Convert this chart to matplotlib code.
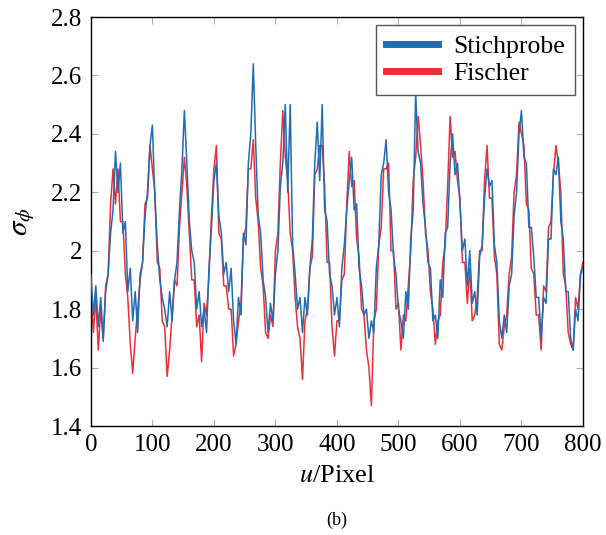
import numpy as np
import matplotlib
matplotlib.use("Agg")
import matplotlib.pyplot as plt

# sigma_phi every 4 pixels (u = 0, 4, ..., 800)
stichprobe = [
    1.92, 1.78, 1.88, 1.74, 1.84, 1.69, 1.86, 1.92, 2.06, 2.14,
    2.34, 2.20, 2.30, 2.06, 2.10, 1.86, 1.94, 1.76, 1.86, 1.72,
    1.92, 1.96, 2.12, 2.20, 2.36, 2.43, 2.18, 2.02, 1.90, 1.84,
    1.80, 1.74, 1.86, 1.76, 1.90, 1.96, 2.14, 2.28, 2.48, 2.30,
    2.10, 2.00, 1.96, 1.80, 1.86, 1.74, 1.80, 1.72, 1.94, 2.08,
    2.24, 2.30, 2.12, 2.06, 1.92, 1.96, 1.86, 1.94, 1.76, 1.68,
    1.84, 1.78, 2.06, 2.02, 2.30, 2.40, 2.64, 2.36, 2.12, 2.06,
    1.90, 1.84, 1.72, 1.82, 1.76, 1.92, 2.00, 2.22, 2.30, 2.50,
    2.20, 2.50, 2.02, 1.92, 1.80, 1.84, 1.72, 1.84, 1.78, 1.94,
    2.04, 2.30, 2.44, 2.24, 2.50, 2.14, 2.10, 1.92, 1.88, 1.78,
    1.84, 1.74, 1.94, 2.02, 2.14, 2.24, 2.32, 2.14, 2.16, 1.94,
    1.88, 1.78, 1.80, 1.70, 1.76, 1.72, 1.94, 2.02, 2.26, 2.30,
    2.38, 2.20, 2.14, 1.98, 1.92, 1.80, 1.76, 1.70, 1.86, 1.80,
    2.04, 2.14, 2.54, 2.34, 2.30, 2.16, 2.08, 1.96, 1.94, 1.76,
    1.78, 1.70, 1.90, 1.84, 2.06, 2.08, 2.30, 2.40, 2.26, 2.30,
    2.16, 2.00, 2.04, 1.88, 2.00, 1.82, 1.86, 1.78, 1.98, 2.02,
    2.18, 2.28, 2.22, 2.24, 2.02, 1.96, 1.76, 1.70, 1.78, 1.72,
    1.88, 1.92, 2.12, 2.20, 2.40, 2.48, 2.32, 2.30, 2.08, 2.08,
    1.98, 1.84, 1.84, 1.70, 1.84, 1.82, 2.04, 2.04, 2.28, 2.26,
    2.32, 2.10, 2.04, 1.86, 1.86, 1.70, 1.66, 1.80, 1.76, 1.92,
    1.94,
]

fischer = [
    1.86, 1.72, 1.84, 1.66, 1.80, 1.70, 1.88, 1.92, 2.16, 2.28,
    2.16, 2.28, 2.10, 2.10, 1.92, 1.84, 1.68, 1.58, 1.70, 1.80,
    1.90, 1.96, 2.16, 2.18, 2.36, 2.28, 2.20, 1.96, 1.94, 1.76,
    1.74, 1.57, 1.66, 1.78, 1.90, 1.88, 2.08, 2.20, 2.32, 2.22,
    2.06, 1.90, 1.90, 1.74, 1.78, 1.62, 1.82, 1.78, 1.92, 2.12,
    2.28, 2.36, 2.06, 2.04, 1.88, 1.88, 1.80, 1.80, 1.64, 1.68,
    1.76, 1.82, 2.04, 2.08, 2.28, 2.28, 2.38, 2.18, 2.10, 1.94,
    1.88, 1.72, 1.70, 1.78, 1.74, 2.00, 2.06, 2.30, 2.48, 2.32,
    2.24, 2.06, 2.00, 1.84, 1.74, 1.70, 1.56, 1.76, 1.80, 1.94,
    1.98, 2.26, 2.28, 2.36, 2.36, 2.22, 1.96, 1.96, 1.74, 1.64,
    1.76, 1.76, 1.90, 1.92, 2.16, 2.34, 2.22, 2.24, 2.04, 1.98,
    1.80, 1.78, 1.66, 1.60, 1.47, 1.76, 1.80, 2.02, 2.08, 2.28,
    2.28, 2.30, 2.00, 2.00, 1.80, 1.82, 1.66, 1.78, 1.76, 1.88,
    2.00, 2.24, 2.32, 2.46, 2.36, 2.24, 2.06, 2.00, 1.86, 1.80,
    1.68, 1.76, 1.78, 1.96, 2.02, 2.22, 2.46, 2.32, 2.34, 2.24,
    2.18, 1.96, 1.96, 1.82, 1.94, 1.76, 1.78, 1.84, 2.00, 2.00,
    2.24, 2.36, 2.18, 2.18, 1.98, 1.92, 1.68, 1.66, 1.74, 1.78,
    1.92, 1.98, 2.20, 2.26, 2.44, 2.40, 2.36, 2.16, 2.14, 1.94,
    1.92, 1.78, 1.78, 1.66, 1.88, 1.86, 2.08, 2.10, 2.26, 2.36,
    2.30, 2.20, 1.92, 1.88, 1.72, 1.68, 1.66, 1.84, 1.80, 1.92,
    1.96,
]

u = np.linspace(0, 800, len(stichprobe))

x_ticks = [0, 100, 200, 300, 400, 500, 600, 700, 800]
y_ticks = [1.4, 1.6, 1.8, 2.0, 2.2, 2.4, 2.6, 2.8]
y_labels = ["1.4", "1.6", "1.8", "2", "2.2", "2.4", "2.6", "2.8"]

plt.rcParams["font.family"] = ["Liberation Serif", "DejaVu Serif"]
plt.rcParams["mathtext.fontset"] = "stix"

blue = "#1f6db5"
red = "#ee2e36"

fig = plt.figure(figsize=(6.06, 5.35), dpi=100)
ax = fig.add_axes([0.150, 0.2037, 0.812, 0.7645])

l_blue, = ax.plot(u, stichprobe, color=blue, lw=1.1, zorder=3, label="Stichprobe")
l_red, = ax.plot(u, fischer, color=red, lw=1.1, zorder=2, label="Fischer")

ax.set_xlim(0, 800)
ax.set_ylim(1.4, 2.8)
ax.set_xticks(x_ticks)
ax.set_yticks(y_ticks)
ax.set_yticklabels(y_labels)
ax.tick_params(direction="in", length=5, width=0.8, color="#b0b0b0",
               labelsize=18, top=True, right=True, pad=6)
for s in ax.spines.values():
    s.set_linewidth(1.0)
    s.set_color("black")

ax.set_xlabel(r"$u$/Pixel", fontsize=19, labelpad=6)
ax.set_ylabel(r"$\sigma_\phi$", fontsize=21, labelpad=10)

leg = ax.legend(handles=[l_blue, l_red], loc="upper right", fontsize=18.5,
                frameon=True, fancybox=False, framealpha=1, edgecolor="#555555",
                handlelength=2.0, handletextpad=0.6, borderpad=0.4,
                labelspacing=0.15, borderaxespad=0.3)
for h in leg.get_lines():
    h.set_linewidth(5)
leg.get_frame().set_linewidth(1.0)

fig.text(0.555, 0.028, "(b)", ha="center", va="center", fontsize=13)

fig.savefig("out.png", dpi=100)
